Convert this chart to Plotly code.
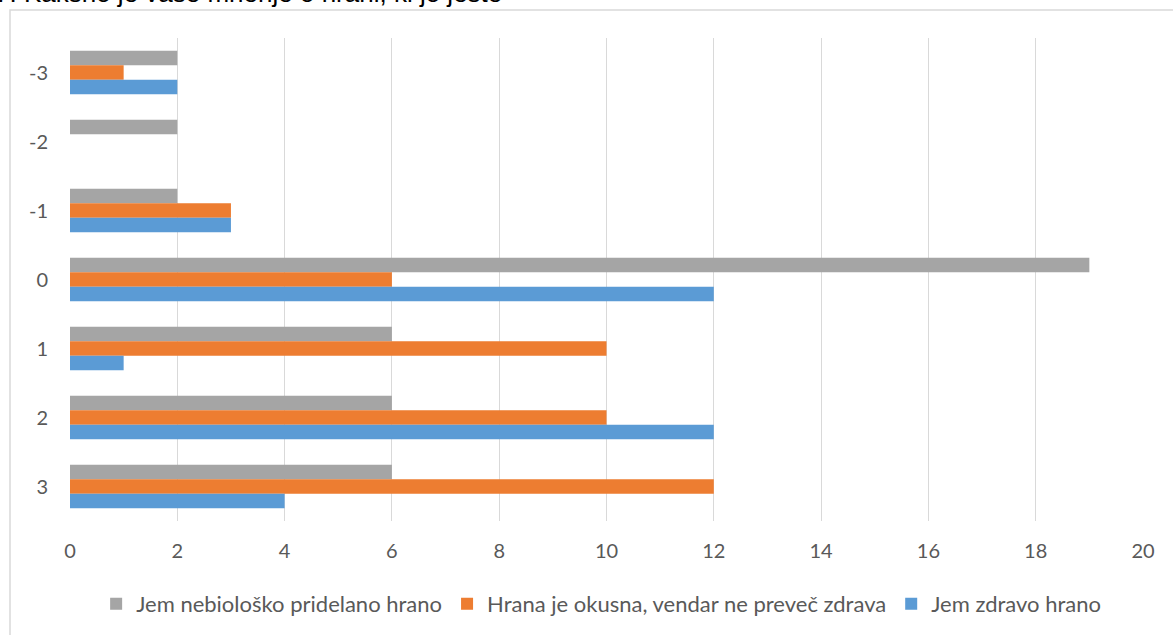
import plotly.graph_objects as go

categories = ["-3", "-2", "-1", "0", "1", "2", "3"]
series_names = [
    "Jem nebiološko pridelano hrano",
    "Hrana je okusna, vendar ne preveč zdrava",
    "Jem zdravo hrano",
]
nebioloska = [2, 2, 2, 19, 6, 6, 6]
okusna = [1, 0, 3, 6, 10, 10, 12]
zdravo = [2, 0, 3, 12, 1, 12, 4]
colors = ["#A5A5A5", "#ED7D31", "#5B9BD5"]
x_ticks = list(range(0, 21, 2))
title_text = "7. Kakšno je vaše mnenje o hrani, ki jo jeste"

fig = go.Figure()
for name, vals, col in zip(series_names, [nebioloska, okusna, zdravo], colors):
    fig.add_trace(go.Bar(
        y=categories, x=vals, name=name, orientation="h",
        marker=dict(color=col, line=dict(width=0)),
    ))

W, H = 1173, 635
ml, mr, mt, mb = 70, 30, 38, 114
pw, ph = W - ml - mr, H - mt - mb

def px_x(p):
    return (p - ml) / pw

def px_y(p):
    return (H - mb - p) / ph

fig.update_layout(
    width=W, height=H,
    margin=dict(l=ml, r=mr, t=mt, b=mb, autoexpand=False),
    paper_bgcolor="white", plot_bgcolor="white",
    barmode="group", bargap=0.37, bargroupgap=0,
    font=dict(family="Lato, Carlito, Calibri, sans-serif", size=20, color="#595959"),
    xaxis=dict(
        range=[0, 20], tickvals=x_ticks, showgrid=True, gridcolor="#D9D9D9",
        gridwidth=1, zeroline=False, showline=False, ticks="",
        ticklabelstandoff=16, tickfont=dict(size=20, color="#595959"),
    ),
    yaxis=dict(
        type="category", categoryorder="array", categoryarray=categories,
        autorange="reversed", showgrid=False, zeroline=False, showline=False,
        ticks="", ticklabelstandoff=21, tickfont=dict(size=20, color="#595959"),
    ),
    legend=dict(
        orientation="h", x=0.495, xanchor="center", y=px_y(604), yanchor="middle",
        font=dict(size=22, color="#595959"), traceorder="normal",
    ),
    annotations=[dict(
        text=title_text, xref="paper", yref="paper",
        x=px_x(-7), xanchor="left", y=px_y(10), yanchor="bottom",
        showarrow=False,
        font=dict(family="Liberation Sans, Arial, sans-serif", size=26, color="#000000"),
    )],
    shapes=[dict(
        type="rect", xref="paper", yref="paper",
        x0=px_x(10), x1=px_x(1200), y0=px_y(700), y1=px_y(10),
        line=dict(color="#D9D9D9", width=1.5), fillcolor="rgba(0,0,0,0)", layer="below",
    )],
)

fig.write_html(
    "out.html",
    config={"displayModeBar": False},
    post_script="document.body.style.margin='0';document.body.style.overflow='hidden';",
)
